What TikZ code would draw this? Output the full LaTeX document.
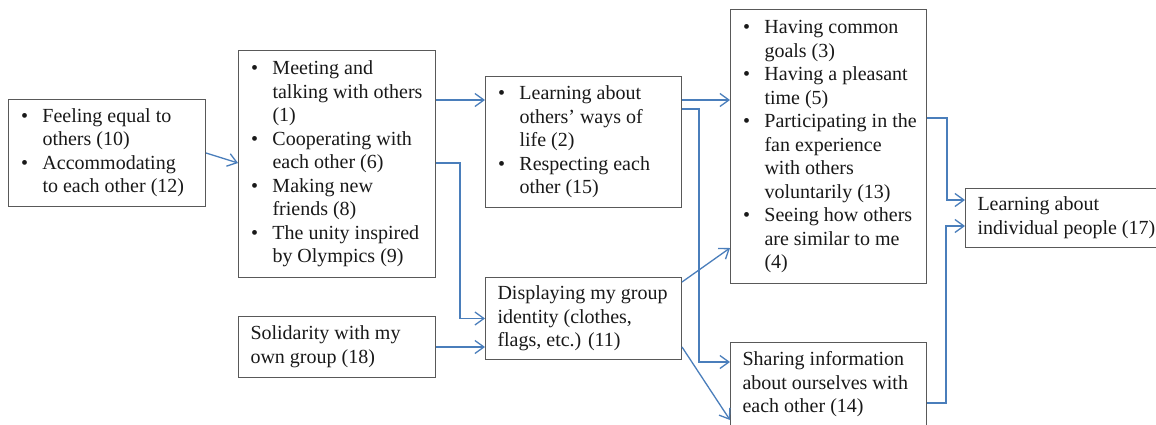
\documentclass[tikz,border=0pt]{standalone}
\usepackage{fontspec}
\setmainfont{Liberation Serif}
\usetikzlibrary{arrows.meta,calc}
\definecolor{arrblue}{HTML}{4A7EBB}
\definecolor{boxgray}{HTML}{595959}
\newcommand{\myb}{\makebox[22pt][l]{\hspace{0.5pt}•}}
\newcommand{\myi}{\hspace*{22pt}}
\newcommand{\mytxt}[2]{\makebox[#1][l]{\begin{tabular}{@{}l@{}}#2\end{tabular}}}
\begin{document}
\begin{tikzpicture}[x=1pt,y=-1pt,
  box/.style={draw=boxgray, line width=1pt, anchor=north west, inner xsep=12pt, inner ysep=0pt,
    font=\fontsize{20}{23.5}\selectfont, text=black!90},
  arr/.style={draw=arrblue, line width=1.3pt, -{Straight Barb[length=9pt,width=13pt]}}]
\useasboundingbox (0,0) rectangle (1156,424);
\fill[white] (0,0) rectangle (1156,424);

\node[box, minimum height=107pt] (A) at (8,99)
  {\mytxt{173pt}{\myb Feeling equal to\\ \myi others (10)\\ \myb Accommodating\\ \myi to each other (12)}};
\node[box, minimum height=227pt] (B) at (238,50)
  {\mytxt{173pt}{\myb Meeting and\\ \myi talking with others\\ \myi (1)\\ \myb Cooperating with\\ \myi each other (6)\\ \myb Making new\\ \myi friends (8)\\ \myb The unity inspired\\ \myi by Olympics (9)}};
\node[box, minimum height=61pt] (H) at (238,316)
  {\mytxt{173pt}{Solidarity with my\\ own group (18)}};
\node[box, minimum height=131pt] (C) at (485,76)
  {\mytxt{172pt}{\myb Learning about\\ \myi others’ ways of\\ \myi life (2)\\ \myb Respecting each\\ \myi other (15)}};
\node[box, minimum height=82pt] (D) at (485,277)
  {\mytxt{172pt}{Displaying my group\\ identity (clothes,\\ flags, etc.) (11)}};
\node[box, minimum height=274pt] (E) at (730,9)
  {\mytxt{172pt}{\myb Having common\\ \myi goals (3)\\ \myb Having a pleasant\\ \myi time (5)\\ \myb Participating in the\\ \myi fan experience\\ \myi with others\\ \myi voluntarily (13)\\ \myb Seeing how others\\ \myi are similar to me\\ \myi (4)}};
\node[box, minimum height=84pt] (F) at (730,342)
  {\mytxt{172pt}{Sharing information\\ about ourselves with\\ each other (14)}};
\node[box, minimum height=59pt] (G) at (965,188)
  {\mytxt{173pt}{Learning about\\ individual people (17)}};

\draw[arr] (A.east) -- ($(B.north west)+(0,113)$);
\draw[arr] ($(B.north east)+(0,50)$) -- ($(C.north west)+(0,24)$);
\draw[arr] ($(B.north east)+(0,113)$) -- ++(24,0) |- (D.west);
\draw[arr] (H.east) -- (H.east -| D.west);
\draw[arr] ($(C.north east)+(0,24)$) -- ($(E.north west)+(0,91)$);
\draw[arr] ($(C.north east)+(0,33)$) -- ++(17,0) |- ($(F.north west)+(0,20)$);
\draw[arr] ($(D.north east)+(0,5)$) -- ($(E.north west)+(0,239)$);
\draw[arr] ($(D.north east)+(0,70)$) -- ($(F.north west)+(0,78)$);
\draw[arr] ($(E.north east)+(0,109)$) -- ++(20,0) |- ($(G.north west)+(0,12)$);
\draw[arr] ($(F.north east)+(0,61)$) -- ++(19,0) |- ($(G.north west)+(0,38)$);
\end{tikzpicture}
\end{document}
